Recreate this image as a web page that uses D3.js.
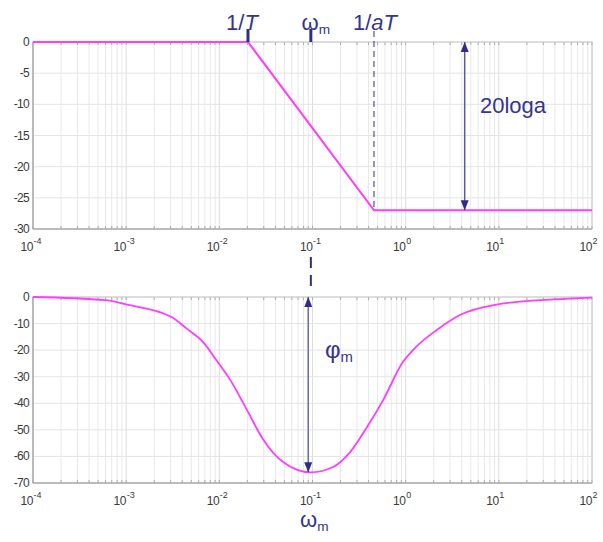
<!DOCTYPE html>
<html>
<head>
<meta charset="utf-8">
<script src="https://cdn.jsdelivr.net/npm/d3@7"></script>
<style>
  body { margin: 0; background: #fff; }
  svg { display: block; font-family: "Liberation Sans", Arial, sans-serif; }
</style>
</head>
<body>
<svg id="chart" width="603" height="542"></svg>
<script>
// values
const decades = [1e-4, 1e-3, 1e-2, 1e-1, 1e0, 1e1, 1e2];
const magTicks = [0, -5, -10, -15, -20, -25, -30];
const phaseTicks = [0, -10, -20, -30, -40, -50, -60, -70];

const magW  = [1e-4, 0.0203, 0.457, 100];
const magDb = [0, 0, -27, -27];

const phaseW   = [1e-4, 6e-4, 1e-3, 0.0031, 0.0045, 0.0067, 0.0094, 0.013, 0.0198, 0.0294, 0.048,
                  0.096, 0.166, 0.252, 0.384, 0.569, 0.933, 1.32, 2.16, 3.82, 10, 38, 100];
const phaseDeg = [0, -1.2, -2.8, -7.6, -12, -17, -24, -31, -42.5, -53.5, -62,
                  -66, -64, -58.5, -49, -39, -24.5, -18.5, -12.4, -6.8, -2.7, -0.9, -0.2];

const wT = 0.0203, wM = 0.096, waT = 0.457, gainDb = -27, phiM = -66;

const svg = d3.select("#chart");
const pink = "#ff3cff", navy = "#2e2e86", labelCol = "#3a3a3a";
const left = 33, right = 592;

const x = d3.scaleLog().domain([1e-4, 1e2]).range([left, right]);
const yMag = d3.scaleLinear().domain([-30, 0]).range([229, 42]);
const yPh = d3.scaleLinear().domain([-70, 0]).range([483, 297]);

// minor ticks for the log grid
const minors = [];
decades.slice(0, -1).forEach(d => { for (let k = 2; k <= 9; k++) minors.push(d * k); });

function panel(y, ticks, labelY) {
  const [y0, y1] = y.range();
  const g = svg.append("g");
  g.selectAll(".vm").data(minors).join("line")
    .attr("x1", d => x(d)).attr("x2", d => x(d)).attr("y1", y1).attr("y2", y0)
    .attr("stroke", "#e8e8e8").attr("stroke-width", 1);
  g.selectAll(".vM").data(decades).join("line")
    .attr("x1", d => x(d)).attr("x2", d => x(d)).attr("y1", y1).attr("y2", y0)
    .attr("stroke", "#dcdcdc").attr("stroke-width", 1);
  g.selectAll(".h").data(ticks).join("line")
    .attr("x1", left).attr("x2", right).attr("y1", d => y(d)).attr("y2", d => y(d))
    .attr("stroke", "#e4e4e4").attr("stroke-width", 1);
  // small ticks on top and bottom edges
  [y0, y1].forEach((edge, i) => {
    g.selectAll(".t" + i).data(minors.concat(decades)).join("line")
      .attr("x1", d => x(d)).attr("x2", d => x(d))
      .attr("y1", edge).attr("y2", edge + (i === 0 ? -3 : 3))
      .attr("stroke", "#aaa");
  });
  g.append("rect").attr("x", left).attr("y", y1).attr("width", right - left).attr("height", y0 - y1)
    .attr("fill", "none").attr("stroke", "#c8c8c8");
  g.append("path").attr("d", `M${left},${y1}V${y0}H${right}`)
    .attr("fill", "none").attr("stroke", "#9a9a9a");

  // y labels
  g.selectAll(".yl").data(ticks).join("text")
    .attr("x", left - 4).attr("y", d => y(d) + 4)
    .attr("text-anchor", "end").attr("font-size", 12).attr("letter-spacing", -0.7)
    .attr("fill", labelCol).text(d => d);

  // x labels 10^n
  g.selectAll(".xl").data(decades).join("text")
    .attr("x", d => x(d)).attr("y", labelY)
    .attr("text-anchor", "end").attr("font-size", 12).attr("letter-spacing", -0.4)
    .attr("fill", labelCol).text("10");
  g.selectAll(".xe").data(decades).join("text")
    .attr("x", d => x(d) + 0.5).attr("y", labelY - 7)
    .attr("font-size", 9).attr("fill", labelCol)
    .text(d => Math.round(Math.log10(d)));
}

panel(yMag, magTicks, 251);
panel(yPh, phaseTicks, 505);

// magnitude asymptotes
const line = (yy) => d3.line().x(d => x(d[0])).y(d => yy(d[1]));
svg.append("path").datum(magW.map((w, i) => [w, magDb[i]]))
  .attr("d", line(yMag)).attr("fill", "none").attr("stroke", pink).attr("stroke-width", 2);

// phase curve
svg.append("path").datum(phaseW.map((w, i) => [w, phaseDeg[i]]))
  .attr("d", line(yPh).curve(d3.curveMonotoneX)).attr("fill", "none").attr("stroke", pink).attr("stroke-width", 1.8);

// markers on top
svg.append("line").attr("x1", x(wT)).attr("x2", x(wT)).attr("y1", 29).attr("y2", yMag(0))
  .attr("stroke", navy).attr("stroke-width", 3);
svg.append("line").attr("x1", x(wM)).attr("x2", x(wM)).attr("y1", 29).attr("y2", yMag(0))
  .attr("stroke", navy).attr("stroke-width", 3);
svg.append("line").attr("x1", x(waT)).attr("x2", x(waT)).attr("y1", 31).attr("y2", yMag(gainDb))
  .attr("stroke", navy).attr("stroke-width", 1).attr("stroke-dasharray", "6,4");
svg.append("line").attr("x1", x(wM)).attr("x2", x(wM)).attr("y1", 257).attr("y2", 292)
  .attr("stroke", navy).attr("stroke-width", 2).attr("stroke-dasharray", "11,7");

// arrow heads
const defs = svg.append("defs");
["s", "e"].forEach(k => {
  defs.append("marker").attr("id", "ar" + k).attr("viewBox", "0 0 10 10")
    .attr("refX", 10).attr("refY", 5).attr("markerWidth", 10).attr("markerHeight", 10)
    .attr("markerUnits", "userSpaceOnUse").attr("orient", k === "s" ? "auto-start-reverse" : "auto")
    .append("path").attr("d", "M0,1L10,5L0,9Z").attr("fill", navy);
});

const xArrow = x(4.3);
svg.append("line").attr("x1", xArrow).attr("x2", xArrow).attr("y1", yMag(0)).attr("y2", yMag(gainDb))
  .attr("stroke", "#5a5aa0").attr("stroke-width", 1.5)
  .attr("marker-start", "url(#ars)").attr("marker-end", "url(#are)");
const xPhArrow = x(0.09);
svg.append("line").attr("x1", xPhArrow).attr("x2", xPhArrow).attr("y1", yPh(0)).attr("y2", yPh(phiM))
  .attr("stroke", "#6a6aaa").attr("stroke-width", 1.5)
  .attr("marker-start", "url(#ars)").attr("marker-end", "url(#are)");

// text labels
const txtCol = "#35358c";
function label(xp, yp, size, parts, anchor) {
  const t = svg.append("text").attr("x", xp).attr("y", yp).attr("font-size", size)
    .attr("fill", txtCol).attr("text-anchor", anchor || "middle");
  parts.forEach(p => {
    const s = t.append("tspan").text(p.t);
    if (p.i) s.attr("font-style", "italic");
    if (p.sub) s.attr("font-size", size * 0.62).attr("dy", 4);
  });
  return t;
}
label(x(wT) - 6, 30, 22, [{t: "1/"}, {t: "T", i: true}]);
label(x(wM) + 5, 30, 22, [{t: "\u03c9"}, {t: "m", sub: true}]);
label(x(waT) + 1, 30, 22, [{t: "1/"}, {t: "a", i: true}, {t: "T", i: true}]);
label(480, 113, 22, [{t: "20log"}, {t: "a"}], "start");
label(325, 358, 24, [{t: "\u03c6"}, {t: "m", sub: true}], "start");
label(300, 527, 22, [{t: "\u03c9"}, {t: "m", sub: true}], "start");
</script>
</body>
</html>
